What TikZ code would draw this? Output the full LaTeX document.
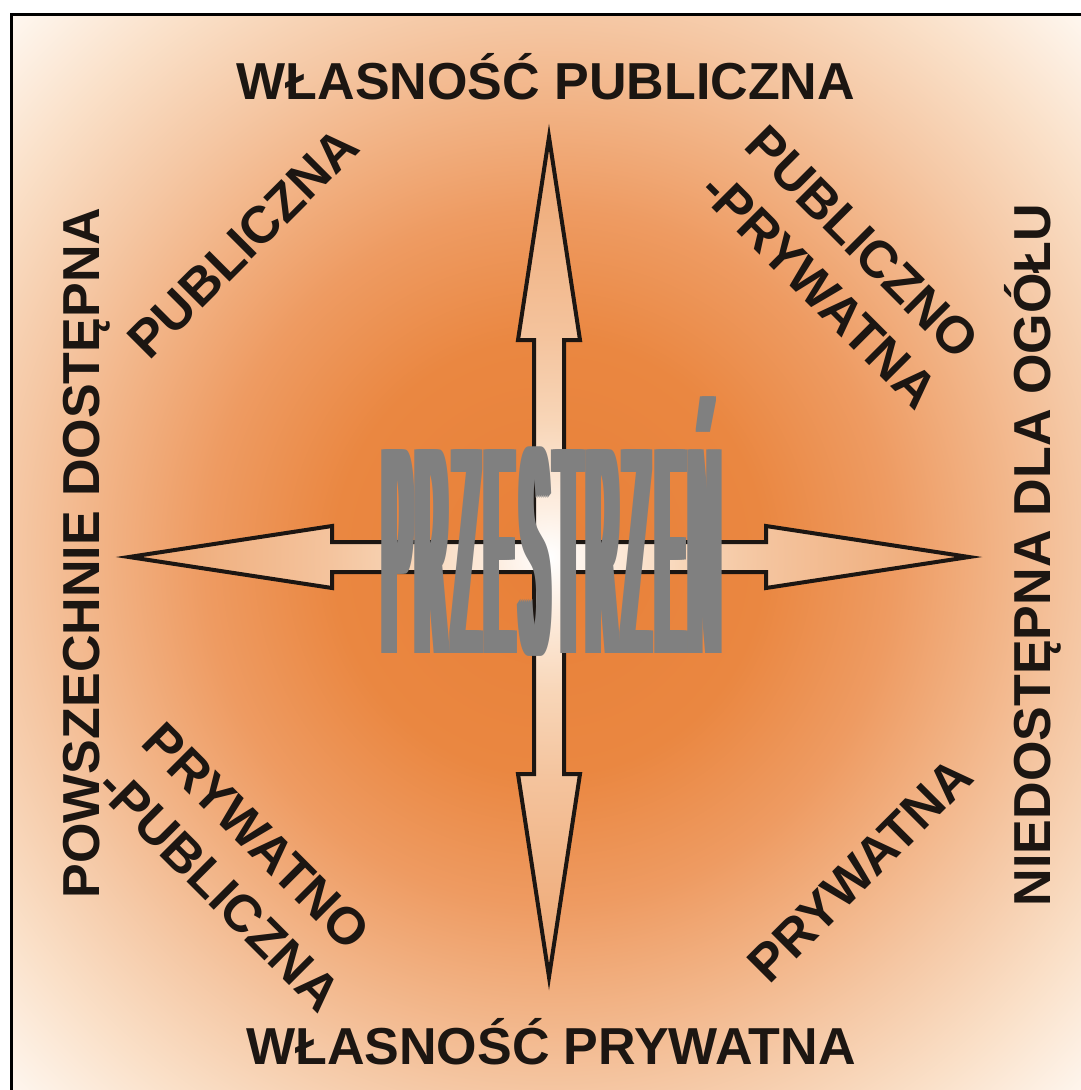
\documentclass[tikz,border=0pt]{standalone}
\usepackage{fontspec}
\setmainfont{Liberation Sans}
\usepackage{graphicx}

\definecolor{ink}{RGB}{28,22,18}
\definecolor{pzgray}{RGB}{128,128,128}
% background glow
\definecolor{bg0}{RGB}{232,128,56}
\definecolor{bg1}{RGB}{234,135,65}
\definecolor{bg2}{RGB}{238,155,98}
\definecolor{bg3}{RGB}{242,180,135}
\definecolor{bg4}{RGB}{245,200,165}
\definecolor{bg5}{RGB}{250,224,200}
\definecolor{bg6}{RGB}{254,246,238}
% cross fill
\definecolor{cr1}{RGB}{253,238,225}
\definecolor{cr2}{RGB}{248,214,184}
\definecolor{cr3}{RGB}{244,196,158}
\definecolor{cr4}{RGB}{238,165,112}

\pgfdeclareradialshading{glow}{\pgfpoint{0bp}{0bp}}{%
  color(0bp)=(bg0); color(10bp)=(bg1); color(16bp)=(bg2); color(21bp)=(bg3);
  color(25bp)=(bg4); color(30bp)=(bg5); color(35bp)=(bg6); color(50bp)=(white)}
\pgfdeclareradialshading{crossfill}{\pgfpoint{0bp}{0bp}}{%
  color(0bp)=(white); color(3bp)=(cr1); color(8bp)=(cr2); color(13bp)=(cr3);
  color(25bp)=(cr4); color(50bp)=(cr4)}

\begin{document}
\begin{tikzpicture}[x=1pt,y=-1pt,line join=miter,
  lbl/.style={font=\fontsize{52}{64}\selectfont\bfseries,text=ink,inner sep=0pt},
  pz/.style={text=pzgray,inner sep=0pt,anchor=base}]
\useasboundingbox (0,0) rectangle (1081,1090);
\begin{scope}
\clip (0,0) rectangle (1081,1090);
\shade[shading=glow] (11,14) rectangle (1087,1100);
\draw[line width=3pt] (11,1095) -- (11,14) -- (1090,14);
\end{scope}

% the cross of four arrows
\coordinate (o) at (549,557);
\begin{scope}[shift={(o)}]
\shadedraw[shading=crossfill,draw=ink,line width=4pt]
  (0,-420) -- (31,-217) -- (15,-217) -- (15,-15) -- (217,-15) -- (217,-31)
  -- (420,0) -- (217,31) -- (217,15) -- (15,15) -- (15,217) -- (31,217)
  -- (0,420) -- (-31,217) -- (-15,217) -- (-15,15) -- (-217,15) -- (-217,31)
  -- (-420,0) -- (-217,-31) -- (-217,-15) -- (-15,-15) -- (-15,-217) -- (-31,-217)
  -- cycle;
\end{scope}

% tall grey word
\foreach \l [count=\i] in {P,R,Z,E,S,T,R,Z,E,Ń}
  \foreach \dx in {-6,-4,...,6}
    \node[pz] (pz\i) at ({363.9+34.1*\i+(\dx)},653)
      {\scalebox{0.135}[1]{\fontsize{296}{296}\selectfont\l}};

\node[lbl,anchor=base] (pubown) at (546,99) {WŁASNOŚĆ PUBLICZNA};
\node[lbl,anchor=base] (privown) at (551,1064) {WŁASNOŚĆ PRYWATNA};
\node[lbl,anchor=base,rotate=90] (open) at (99,553) {POWSZECHNIE DOSTĘPNA};
\node[lbl,anchor=base,rotate=90] (closed) at (1050,555) {NIEDOSTĘPNA DLA OGÓŁU};

\node[lbl,rotate=45] (pub) at (243,243) {PUBLICZNA};
\node[lbl,rotate=-45,align=left] (pubpriv) at (842,267) {PUBLICZNO\\-PRYWATNA};
\node[lbl,rotate=-45,align=left] (privpub) at (242,867) {PRYWATNO\\-PUBLICZNA};
\node[lbl,rotate=45] (priv) at (860,870) {PRYWATNA};
\end{tikzpicture}
\end{document}
